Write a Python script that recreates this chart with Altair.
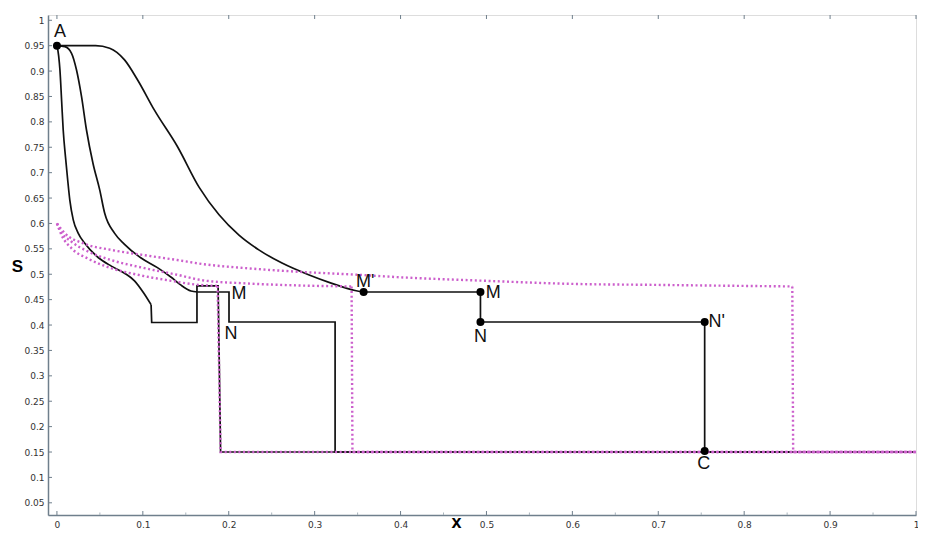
import altair as alt
import pandas as pd

# ---------------- data ----------------
# black trajectory 1 (steepest): smooth part, then steps
c1_x = [0, 0.002, 0.0035, 0.0055, 0.0073, 0.010, 0.0125, 0.015, 0.019, 0.0247, 0.0324, 0.048,
        0.0633, 0.0787, 0.0903, 0.101, 0.1096]
c1_y = [0.95, 0.93, 0.902, 0.84, 0.784, 0.73, 0.686, 0.646, 0.607, 0.581, 0.561, 0.533,
        0.516, 0.502, 0.487, 0.463, 0.44]
s1_x = [0.1096, 0.1103, 0.163, 0.163, 0.1876, 0.1905, 1.0]
s1_y = [0.44, 0.405, 0.405, 0.477, 0.477, 0.15, 0.15]
# black trajectory 2
c2_x = [0, 0.0093, 0.017, 0.0228, 0.0286, 0.0344, 0.042, 0.0498, 0.0556, 0.067, 0.0787,
        0.098, 0.117, 0.133, 0.144, 0.156, 0.1636]
c2_y = [0.95, 0.948, 0.935, 0.902, 0.85, 0.784, 0.718, 0.666, 0.62, 0.581, 0.559,
        0.532, 0.513, 0.494, 0.479, 0.467, 0.465]
s2_x = [0.1636, 0.2003, 0.2003, 0.3238, 0.3238, 1.0]
s2_y = [0.465, 0.465, 0.406, 0.406, 0.15, 0.15]
# black trajectory 3 (A -> M' -> M -> N -> N' -> C)
c3_x = [0, 0.045, 0.0614, 0.0787, 0.0941, 0.1135, 0.1404, 0.1656, 0.1887, 0.2119, 0.235,
        0.262, 0.2929, 0.32, 0.347, 0.357]
c3_y = [0.95, 0.95, 0.945, 0.922, 0.882, 0.823, 0.751, 0.671, 0.617, 0.577, 0.548,
        0.522, 0.499, 0.482, 0.468, 0.465]
s3_x = [0.357, 0.493, 0.493, 0.754, 0.754, 1.0]
s3_y = [0.465, 0.465, 0.406, 0.406, 0.15, 0.15]

# pink dotted curves: smooth part, then the drop to 0.15
p1_x = [0, 0.0054, 0.017, 0.036, 0.063, 0.094, 0.133, 0.16, 0.187]
p1_y = [0.6, 0.577, 0.551, 0.531, 0.512, 0.499, 0.487, 0.480, 0.477]
q1_x = [0.187, 0.1905, 1.0]
q1_y = [0.477, 0.15, 0.15]
p2_x = [0, 0.0035, 0.017, 0.036, 0.063, 0.102, 0.14, 0.17, 0.22, 0.28, 0.343]
p2_y = [0.6, 0.587, 0.564, 0.545, 0.528, 0.512, 0.499, 0.488, 0.482, 0.478, 0.476]
q2_x = [0.343, 0.344, 1.0]
q2_y = [0.476, 0.15, 0.15]
p3_x = [0, 0.009, 0.032, 0.063, 0.10, 0.14, 0.17, 0.22, 0.28, 0.35, 0.40, 0.5, 0.6, 0.7,
        0.8, 0.856]
p3_y = [0.6, 0.581, 0.560, 0.548, 0.538, 0.528, 0.520, 0.512, 0.505, 0.499, 0.494, 0.487,
        0.481, 0.479, 0.477, 0.476]
q3_x = [0.856, 0.857, 1.0]
q3_y = [0.476, 0.15, 0.15]

# marked points
pt_x = [0, 0.357, 0.493, 0.493, 0.754, 0.754]
pt_y = [0.95, 0.465, 0.465, 0.406, 0.406, 0.152]

# point labels (label anchor in data coordinates)
lab_text = ["A", "M'", "M", "N", "N'", "C", "M", "N"]
lab_x = [0.0035, 0.359, 0.508, 0.493, 0.768, 0.753, 0.212, 0.2026]
lab_y = [0.977, 0.484, 0.463, 0.377, 0.406, 0.127, 0.462, 0.3825]

# axis ticks
x_ticks = [0, 0.1, 0.2, 0.3, 0.4, 0.5, 0.6, 0.7, 0.8, 0.9, 1.0]
x_minor = [0.05, 0.15, 0.25, 0.35, 0.45, 0.55, 0.65, 0.75, 0.85, 0.95]
y_ticks = [0.05, 0.1, 0.15, 0.2, 0.25, 0.3, 0.35, 0.4, 0.45, 0.5, 0.55, 0.6, 0.65,
           0.7, 0.75, 0.8, 0.85, 0.9, 0.95, 1.0]


def frame(name, xs, ys):
    return pd.DataFrame({"series": name, "x": xs, "y": ys, "order": list(range(len(xs)))})


curve_df = pd.concat([frame("c1", c1_x, c1_y), frame("c2", c2_x, c2_y),
                      frame("c3", c3_x, c3_y)], ignore_index=True)
step_df = pd.concat([frame("s1", s1_x, s1_y), frame("s2", s2_x, s2_y),
                     frame("s3", s3_x, s3_y)], ignore_index=True)
pink_curve_df = pd.concat([frame("p1", p1_x, p1_y), frame("p2", p2_x, p2_y),
                           frame("p3", p3_x, p3_y)], ignore_index=True)
pink_step_df = pd.concat([frame("q1", q1_x, q1_y), frame("q2", q2_x, q2_y),
                          frame("q3", q3_x, q3_y)], ignore_index=True)
pts_df = pd.DataFrame({"x": pt_x, "y": pt_y})
lab_df = pd.DataFrame({"x": lab_x, "y": lab_y, "t": lab_text})

AX = "#6f7f8c"
W, H = 868, 500
xs = alt.Scale(domain=[-0.0104, 1.0], nice=False, zero=False)
ys = alt.Scale(domain=[0.026, 1.0104], nice=False, zero=False)

x_axis = alt.Axis(values=x_ticks, format="~g", ticks=False, grid=False, labelPadding=5,
                  labelFontSize=9, labelFont="DejaVu Sans", labelColor="#333",
                  domainColor=AX, domainWidth=1.5, title="x", titleFontSize=18,
                  titleFont="Liberation Sans", titleFontWeight="bold", titleColor="#000",
                  titleX=408, titleY=12, titleAlign="center", titleBaseline="alphabetic",
                  labelFlush=False, labelOverlap=False)
y_axis = alt.Axis(values=y_ticks, format="~g", ticks=False, grid=False, labelPadding=4,
                  labelFontSize=9, labelFont="DejaVu Sans", labelColor="#333",
                  domainColor=AX, domainWidth=1.5, title="S", titleFontSize=17,
                  titleFont="Liberation Sans", titleFontWeight="bold", titleColor="#000",
                  titleAngle=0, titleX=-31, titleY=251, titleAlign="center",
                  titleBaseline="middle", labelFlush=False, labelOverlap=False)

X = alt.X("x:Q", scale=xs, axis=x_axis)
Y = alt.Y("y:Q", scale=ys, axis=y_axis)

curves = alt.Chart(curve_df).mark_line(color="#111", strokeWidth=1.7,
                                       interpolate="monotone").encode(
    x=X, y=Y, detail="series:N", order="order:Q")
steps = alt.Chart(step_df).mark_line(color="#111", strokeWidth=1.7).encode(
    x=X, y=Y, detail="series:N", order="order:Q")
pink_curves = alt.Chart(pink_curve_df).mark_line(
    color="#cc5fcc", strokeWidth=2.4, strokeDash=[2, 2.6], interpolate="monotone").encode(
    x=X, y=Y, detail="series:N", order="order:Q")
pink_steps = alt.Chart(pink_step_df).mark_line(
    color="#cc5fcc", strokeWidth=2.4, strokeDash=[2, 2.6]).encode(
    x=X, y=Y, detail="series:N", order="order:Q")
points = alt.Chart(pts_df).mark_circle(color="#000", size=64, opacity=1).encode(x=X, y=Y)
labels = alt.Chart(lab_df).mark_text(font="Liberation Sans", fontSize=18, color="#111",
                                     baseline="middle", align="center").encode(
    x=X, y=Y, text="t:N")

ytick_layer = alt.Chart(pd.DataFrame({"y": y_ticks})).mark_rule(color=AX, strokeWidth=1).encode(
    y=Y, x=alt.value(0), x2=alt.value(4))
xtick_layer = alt.Chart(pd.DataFrame({"x": x_ticks})).mark_rule(color=AX, strokeWidth=1).encode(
    x=X, y=alt.value(H), y2=alt.value(H - 4))
xminor_layer = alt.Chart(pd.DataFrame({"x": x_minor})).mark_rule(color="#a9b4bc", strokeWidth=1).encode(
    x=X, y=alt.value(H), y2=alt.value(H - 2.5))
xtop_layer = alt.Chart(pd.DataFrame({"x": x_ticks})).mark_rule(color=AX, strokeWidth=1).encode(
    x=X, y=alt.value(0), y2=alt.value(4))

chart = alt.layer(
    ytick_layer, xtick_layer, xminor_layer, xtop_layer,
    curves, steps, pink_curves, pink_steps, points, labels
).properties(
    width=W, height=H,
    autosize=alt.AutoSizeParams(type="none"),
    padding={"left": 40, "top": 7, "right": 2, "bottom": 15},
).configure_view(stroke=AX, strokeWidth=1.5).configure(background="white")

chart.save("out.html", embed_options={"renderer": "svg", "actions": False})
